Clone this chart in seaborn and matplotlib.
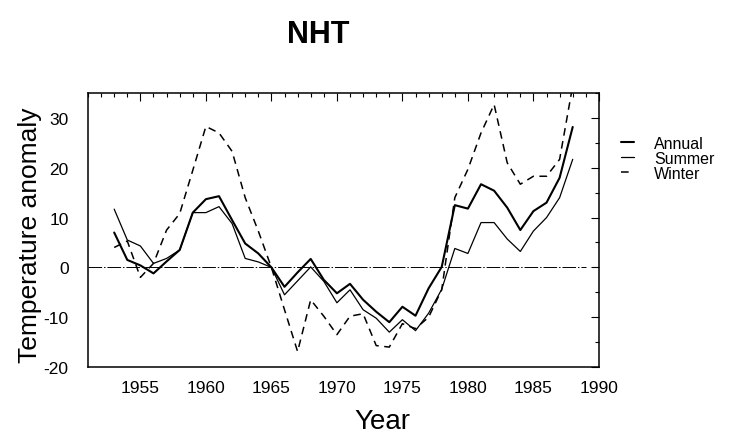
import matplotlib
matplotlib.use("Agg")
import matplotlib.pyplot as plt
from matplotlib.ticker import MultipleLocator
import numpy as np
import pandas as pd
import seaborn as sns

# ---------------- data ----------------
YEARS = list(range(1953, 1989))

ANNUAL = [7.0, 1.5, 0.4, -1.2, 1.2, 3.5, 11.0, 13.7, 14.3, 9.5,
          4.8, 2.8, 0.0, -3.9, -1.0, 1.7, -2.5, -5.2, -3.3, -6.5,
          -8.9, -11.0, -7.9, -9.7, -4.2, 0.1, 12.5, 11.8, 16.7, 15.4,
          12.0, 7.5, 11.3, 13.0, 18.0, 28.2]

SUMMER = [11.7, 5.5, 4.3, 0.8, 1.8, 3.5, 11.0, 11.0, 12.2, 8.8,
          1.8, 1.1, 0.0, -5.5, -2.7, 0.1, -2.8, -7.1, -4.5, -8.5,
          -10.2, -13.0, -10.5, -12.7, -9.2, -4.4, 3.8, 2.8, 9.0, 9.0,
          5.7, 3.2, 7.3, 10.0, 14.0, 21.7]

WINTER = [4.0, 5.3, -2.0, 0.8, 7.5, 10.8, 19.5, 28.3, 27.0, 23.3,
          14.0, 7.3, 0.0, -8.5, -16.9, -6.5, -9.8, -13.5, -9.8, -9.3,
          -15.7, -16.0, -11.3, -12.3, -10.0, -4.5, 14.0, 19.7, 27.0, 32.7,
          21.0, 16.7, 18.3, 18.3, 21.7, 36.5]

SERIES_NAMES = ["Annual", "Summer", "Winter"]
X_LIMITS = (1951, 1990)
Y_LIMITS = (-20, 35)
ZERO_LINE_END = 1989

df = pd.DataFrame({"Year": YEARS, "Annual": ANNUAL,
                   "Summer": SUMMER, "Winter": WINTER})

# ---------------- style ----------------
sns.set_theme(style="white")
plt.rcParams["font.family"] = ["Liberation Sans", "DejaVu Sans"]
plt.rcParams["axes.unicode_minus"] = False
for key in ["text.color", "axes.labelcolor", "xtick.color", "ytick.color",
            "axes.edgecolor"]:
    plt.rcParams[key] = "black"

fig = plt.figure(figsize=(7.32, 4.39), dpi=100)
ax = fig.add_axes([0.1202, 0.1617, 0.698, 0.624])

# zero reference line (dash-dot)
ax.axhline(0, xmin=0,
           xmax=(ZERO_LINE_END - X_LIMITS[0]) / (X_LIMITS[1] - X_LIMITS[0]),
           color="black", lw=0.7, linestyle=(0, (14, 2, 1.5, 2)), zorder=1)

styles = {
    "Annual": dict(lw=1.5, linestyle="-"),
    "Summer": dict(lw=0.9, linestyle="-"),
    "Winter": dict(lw=1.1, linestyle=(0, (5, 3.6))),
}
for name in SERIES_NAMES:
    sns.lineplot(data=df, x="Year", y=name, ax=ax, color="black",
                 label=name, zorder=3, **styles[name])

ax.set_xlim(*X_LIMITS)
ax.set_ylim(*Y_LIMITS)

ax.xaxis.set_major_locator(MultipleLocator(5))
ax.xaxis.set_minor_locator(MultipleLocator(1))
ax.yaxis.set_major_locator(MultipleLocator(10))
ax.yaxis.set_minor_locator(MultipleLocator(5))

ax.tick_params(which="both", direction="in", top=True, right=True,
               color="black", width=0.8)
ax.tick_params(which="major", length=6)
ax.tick_params(which="minor", length=3)
ax.tick_params(axis="x", labelsize=12.5, pad=9)
ax.tick_params(axis="y", labelsize=12.5, pad=14)

for sp in ax.spines.values():
    sp.set_color("black")
    sp.set_linewidth(1.1)

ax.set_ylabel("Temperature anomaly", fontsize=19)
ax.yaxis.set_label_coords(-0.09, 0.485)
ax.set_xlabel("Year", fontsize=20)
ax.xaxis.set_label_coords(0.577, -0.148)

ax.set_title("NHT", fontsize=22, fontweight="bold", x=0.45, y=1.155)

ax.legend(loc="upper left", bbox_to_anchor=(0.848, 0.688),
          bbox_transform=fig.transFigure, frameon=False,
          fontsize=11.5, handlelength=0.8, handletextpad=1.3,
          labelspacing=0.0, borderpad=0, borderaxespad=0)

fig.savefig("out.png", dpi=100, facecolor="white")
